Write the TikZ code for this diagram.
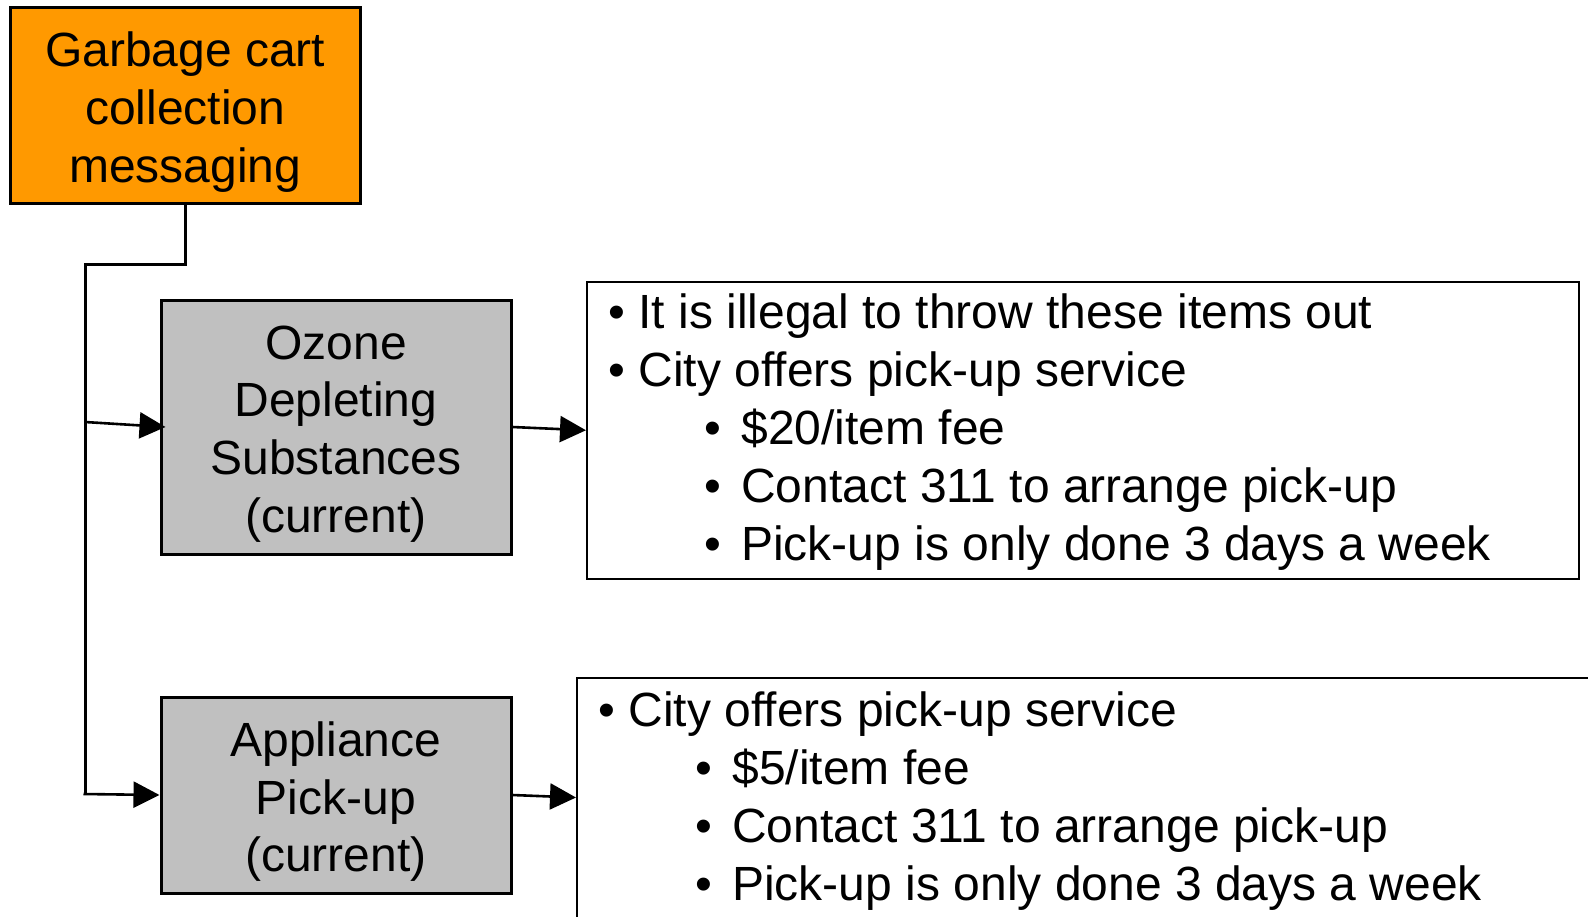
\documentclass[tikz,border=0pt]{standalone}
\usepackage{fontspec}
\setmainfont{Liberation Sans}
\usetikzlibrary{arrows.meta}
\definecolor{boxorange}{HTML}{FF9900}
\definecolor{boxgray}{HTML}{C0C0C0}
\tikzset{
  bigfont/.style={font=\fontsize{24pt}{28.85pt}\selectfont},
  mainbox/.style={draw=black, line width=1.5pt, inner sep=0pt},
  boxlabel/.style={label={[bigfont, align=center, inner sep=0pt, yshift=-3.4pt]center:#1}},
  listbox/.style={draw=black, line width=1pt, inner sep=0pt},
  linetext/.style={bigfont, anchor=base west, inner sep=0pt},
  conn/.style={line width=1.3pt, -{Triangle[length=13pt,width=13pt]}},
  plainconn/.style={line width=1.5pt},
}
\newcommand{\lvltwo}{•\hspace{0.42em}}
\newcommand{\lvlone}{•\ }
\begin{document}
\begin{tikzpicture}[x=0.5pt,y=-0.5pt]
\useasboundingbox (0,0) rectangle (1588,916);
\clip (0,0) rectangle (1588,916);
% main boxes
\node[mainbox, fill=boxorange, minimum width=175.25pt, minimum height=98.25pt,
  boxlabel={Garbage cart\\collection\\messaging}] (gc) at (185.25,105.25) {};
\node[mainbox, fill=boxgray, minimum width=175pt, minimum height=127pt,
  boxlabel={Ozone\\Depleting\\Substances\\(current)}] (oz) at (336,427) {};
\node[mainbox, fill=boxgray, minimum width=175pt, minimum height=98pt,
  boxlabel={Appliance\\Pick-up\\(current)}] (ap) at (336,795) {};
% list boxes
\node[listbox, minimum width=496pt, minimum height=148.75pt] (t1) at (1083,430.25) {};
\node[listbox, minimum width=515pt, minimum height=120pt] (t2) at (1092,797.5) {};
% list text 1
\node[linetext] (l11) at (608,328.5) {\lvlone It is illegal to throw these items out};
\node[linetext] (l12) at (608,386.5) {\lvlone City offers pick-up service};
\node[linetext] (l13) at (704,444.5) {\lvltwo \$20/item fee};
\node[linetext] (l14) at (704,502.5) {\lvltwo Contact 311 to arrange pick-up};
\node[linetext] (l15) at (704,560.5) {\lvltwo Pick-up is only done 3 days a week};
% list text 2
\node[linetext] (l21) at (598,726) {\lvlone City offers pick-up service};
\node[linetext] (l22) at (695,784) {\lvltwo \$5/item fee};
\node[linetext] (l23) at (695,842) {\lvltwo Contact 311 to arrange pick-up};
\node[linetext] (l24) at (695,900) {\lvltwo Pick-up is only done 3 days a week};
% connectors
\coordinate (c1) at (185.25,264);
\coordinate (c2) at (85,264);
\coordinate (c3) at (85,794);
\coordinate (cb) at (85,422);
\draw[plainconn] (gc.south) -- (c1) -- (c2) -- (c3);
\draw[conn] ([xshift=-0.75pt]c3) -- (ap.west);
\draw[conn] (cb) -- ([xshift=3pt]oz.west);
\draw[conn] (oz.east) -- (t1.west);
\draw[conn] (ap.east) -- (t2.west);
\end{tikzpicture}
\end{document}
